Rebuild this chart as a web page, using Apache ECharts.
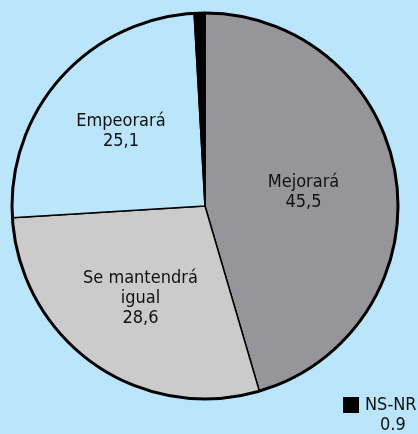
<!DOCTYPE html>
<html>
<head>
<meta charset="utf-8">
<script src="https://cdn.jsdelivr.net/npm/echarts@6/dist/echarts.min.js"></script>
<style>
  html, body { margin: 0; padding: 0; background: #bae5fa; }
  #chart { width: 418px; height: 434px; }
</style>
</head>
<body>
<div id="chart"></div>
<script>
const categories = ['Mejorará', 'Se mantendrá\nigual', 'Empeorará', 'NS-NR']
const values = [45.5, 28.6, 25.1, 0.9]
const colors = ['#96969a', '#cbcbcb', '#bae5fa', '#000000']

const cx = 205
const cy = 206
const font = '"DejaVu Sans Condensed", "Liberation Sans", sans-serif'
// how far the inside labels are pushed out from the middle radius
const push = [1.0, 1.13, 1.13]

let myChart = echarts.init(document.getElementById('chart'))

const fmt = (params) => {
  if (params.dataIndex === 3) {
    return '{sq|}{n|' + params.name + '}\n{v|' + params.value + '}'
  }
  return params.name + '\n' + String(params.value).replace('.', ',')
}

myChart.setOption({
  backgroundColor: '#bae5fa',
  animation: false,
  textStyle: { fontFamily: font },
  series: [{
    type: 'pie',
    center: [cx, cy],
    radius: 193,
    startAngle: 90,
    clockwise: true,
    data: categories.map((name, i) => ({
      name: name,
      value: values[i],
      itemStyle: { color: colors[i] }
    })),
    itemStyle: { borderColor: '#000', borderWidth: 1.5 },
    label: {
      show: true,
      position: 'inside',
      formatter: fmt,
      color: '#111',
      fontSize: 18,
      lineHeight: 20,
      align: 'center',
      fontFamily: font,
      rich: {
        sq: { width: 16, height: 16, backgroundColor: '#000' },
        n: { fontSize: 18, lineHeight: 20, color: '#111', padding: [0, 0, 0, 6], fontFamily: font },
        v: { fontSize: 18, lineHeight: 20, color: '#111', padding: [0, 0, 0, 37], fontFamily: font }
      }
    },
    labelLine: { show: false },
    emphasis: { disabled: true },
    labelLayout: function (params) {
      if (params.dataIndex === 3) {
        return { x: 343, y: 395, align: 'left', verticalAlign: 'top' }
      }
      const r = params.labelRect
      const lx = r.x + r.width / 2
      const ly = r.y + r.height / 2
      const k = push[params.dataIndex] - 1
      return { dx: (lx - cx) * k, dy: (ly - cy) * k }
    }
  }, {
    // heavier outer rim
    type: 'pie',
    silent: true,
    center: [cx, cy],
    radius: 193,
    data: [{ value: values.reduce((a, b) => a + b, 0) }],
    itemStyle: { color: 'transparent', borderColor: '#000', borderWidth: 3 },
    label: { show: false },
    labelLine: { show: false },
    emphasis: { disabled: true }
  }]
})
</script>
</body>
</html>
